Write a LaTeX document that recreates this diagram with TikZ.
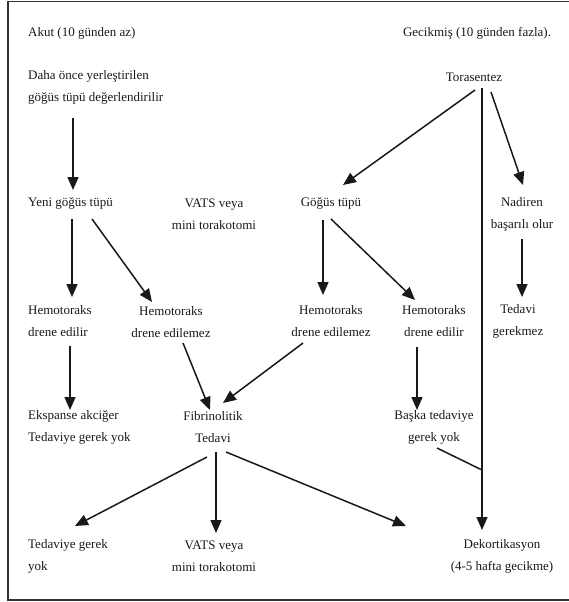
\documentclass[tikz,border=0pt]{standalone}
\usepackage{fontspec}
\setmainfont{Liberation Serif}
\usetikzlibrary{arrows.meta}
\begin{document}
\begin{tikzpicture}[x=1pt,y=-1pt,
  txt/.style={inner sep=0pt,align=center,font=\fontsize{13}{22}\selectfont,text=black!90},
  ltxt/.style={txt,anchor=west,align=left},
  arr/.style={line width=1.5pt,black!90,-{Triangle[length=13pt,width=11pt]}},
  plain/.style={line width=1.5pt,black!90}]
\useasboundingbox (0,0) rectangle (569,602);
\draw[line width=1.2pt,black!80] (8,1.5) rectangle (590,600);
% nodes
\node[ltxt] (akut) at (28,33) {Akut (10 günden az)};
\node[txt] (gecik) at (477,33) {Gecikmiş (10 günden fazla).};
\node[ltxt] (daha) at (28,87) {Daha önce yerleştirilen\\göğüs tüpü değerlendirilir};
\node[txt] (tora) at (474,77) {Torasentez};
\node[ltxt] (yeni) at (28,203) {Yeni göğüs tüpü};
\node[txt] (vats1) at (214,214) {VATS veya\\mini torakotomi};
\node[txt] (gogus) at (331,203) {Göğüs tüpü};
\node[txt] (nadir) at (522,214) {Nadiren\\başarılı olur};
\node[ltxt] (hem1) at (28,321) {Hemotoraks\\drene edilir};
\node[txt] (hem2) at (171,322) {Hemotoraks\\drene edilemez};
\node[txt] (hem3) at (331,321) {Hemotoraks\\drene edilemez};
\node[txt] (hem4) at (434,321) {Hemotoraks\\drene edilir};
\node[txt] (tedgr) at (518,321) {Tedavi\\gerekmez};
\node[ltxt] (eksp) at (28,427) {Ekspanse akciğer\\Tedaviye gerek yok};
\node[txt] (fibr) at (213,427) {Fibrinolitik\\Tedavi};
\node[txt] (baska) at (434,427) {Başka tedaviye\\gerek yok};
\node[ltxt] (tedy) at (28,556) {Tedaviye gerek\\yok};
\node[txt] (vats2) at (214,556) {VATS veya\\mini torakotomi};
\node[txt] (dekor) at (502,556) {Dekortikasyon\\(4-5 hafta gecikme)};
\coordinate (j) at (482,470);
% connectors
\draw[arr] ([xshift=45pt,yshift=-31pt]daha.west) -- ([xshift=45pt,yshift=13pt]yeni.west);
\draw[arr] ([xshift=1pt,yshift=-13pt]tora.center) -- ([xshift=12pt,yshift=18pt]gogus.center);
\draw[arr] ([xshift=8pt,yshift=-11pt]tora.center) -- ([xshift=-20pt,yshift=26pt]dekor.center);
\draw[arr] ([xshift=17pt,yshift=-15pt]tora.center) -- ([xshift=1pt,yshift=29pt]nadir.center);
\draw[arr] ([xshift=44pt,yshift=-16pt]yeni.west) -- ([xshift=44pt,yshift=24pt]hem1.west);
\draw[arr] ([xshift=64pt,yshift=-16pt]yeni.west) -- ([xshift=-19pt,yshift=20pt]hem2.center);
\draw[arr] ([xshift=-8pt,yshift=-17pt]gogus.center) -- ([xshift=-8pt,yshift=26pt]hem3.center);
\draw[arr] ([xshift=0pt,yshift=-16pt]gogus.center) -- ([xshift=-19pt,yshift=21pt]hem4.center);
\draw[arr] ([xshift=0pt,yshift=-25pt]nadir.center) -- ([xshift=4pt,yshift=24pt]tedgr.center);
\draw[arr] ([xshift=42pt,yshift=-25pt]hem1.west) -- ([xshift=42pt,yshift=17pt]eksp.west);
\draw[arr] ([xshift=12pt,yshift=-21pt]hem2.center) -- ([xshift=-3pt,yshift=17pt]fibr.center);
\draw[arr] ([xshift=-28pt,yshift=-22pt]hem3.center) -- ([xshift=10pt,yshift=24pt]fibr.center);
\draw[arr] ([xshift=-17pt,yshift=-26pt]hem4.center) -- ([xshift=-17pt,yshift=17pt]baska.center);
\draw[plain] ([xshift=3pt,yshift=-21pt]baska.center) -- (j);
\draw[arr] ([xshift=-6pt,yshift=-30pt]fibr.center) -- ([xshift=47pt,yshift=30pt]tedy.west);
\draw[arr] ([xshift=3pt,yshift=-25pt]fibr.center) -- ([xshift=2pt,yshift=23pt]vats2.center);
\draw[arr] ([xshift=13pt,yshift=-25pt]fibr.center) -- ([xshift=-96pt,yshift=30pt]dekor.center);
\end{tikzpicture}
\end{document}
